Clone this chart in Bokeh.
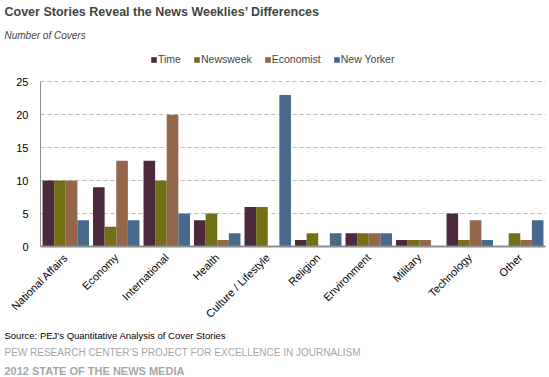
import math
from bokeh.plotting import figure
from bokeh.models import ColumnDataSource, Legend, LegendItem, Title, FactorRange, Range1d
from bokeh.transform import dodge
from bokeh.embed import file_html
from bokeh.resources import INLINE

categories = ["National Affairs", "Economy", "International", "Health", "Culture / Lifestyle",
              "Religion", "Environment", "Military", "Technology", "Other"]
series_names = ["Time", "Newsweek", "Economist", "New Yorker"]
time_vals = [10, 9, 13, 4, 6, 1, 2, 1, 5, 0]
newsweek_vals = [10, 3, 10, 5, 6, 2, 2, 1, 1, 2]
economist_vals = [10, 13, 20, 1, 0, 0, 2, 1, 4, 1]
newyorker_vals = [4, 4, 5, 2, 23, 2, 2, 0, 1, 4]
y_ticks = [0, 5, 10, 15, 20, 25]
colors = ["#4a2a3c", "#727017", "#94674a", "#46698c"]

FONT = "Liberation Sans"
src = ColumnDataSource(dict(cat=categories, t=time_vals, n=newsweek_vals,
                            e=economist_vals, y=newyorker_vals))

p = figure(x_range=FactorRange(*categories, range_padding=0.0), y_range=Range1d(0, 29.75),
           width=549, height=377, output_backend="svg", toolbar_location=None,
           title=None, min_border_left=40, min_border_right=4, min_border_top=3,
           min_border_bottom=0, background_fill_color="white", border_fill_color="white")
p.outline_line_color = None

bw = 0.23
offs = [-1.5 * bw, -0.5 * bw, 0.5 * bw, 1.5 * bw]
cols = ["t", "n", "e", "y"]
items = []
for c, o, col, name in zip(cols, offs, colors, series_names):
    r = p.vbar(x=dodge("cat", o, range=p.x_range), top=c, width=bw, source=src,
               fill_color=col, line_color=None)
    items.append(LegendItem(label=name, renderers=[r]))

p.xgrid.grid_line_color = None
p.ygrid.ticker = y_ticks
p.ygrid.grid_line_color = "#bdbdbd"
p.ygrid.grid_line_dash = "4 3"
p.ygrid.grid_line_width = 1

p.yaxis.ticker = y_ticks
p.yaxis.bounds = (0, 25)
p.yaxis.axis_line_color = "#8c8c8c"
p.yaxis.major_tick_line_color = None
p.yaxis.minor_tick_line_color = None
p.yaxis.major_label_text_font = FONT
p.yaxis.major_label_text_font_size = "11px"
p.yaxis.major_label_text_color = "#000000"
p.yaxis.major_label_standoff = 6

p.xaxis.axis_line_color = "#8c8c8c"
p.xaxis.axis_line_width = 2
p.xaxis.major_tick_line_color = None
p.xaxis.minor_tick_line_color = None
p.xaxis.major_label_orientation = math.pi / 4
p.xaxis.major_label_text_font = FONT
p.xaxis.major_label_text_font_size = "11px"
p.xaxis.major_label_text_color = "#000000"
p.xaxis.major_label_standoff = 3

legend = Legend(items=items, orientation="horizontal", location=(110, 181),
                label_text_font=FONT, label_text_font_size="10.5px",
                glyph_width=7, glyph_height=7, label_standoff=1, spacing=12,
                padding=0, margin=0, border_line_color=None, background_fill_alpha=0)
p.add_layout(legend, "center")

sub = Title(text="Number of Covers", text_font=FONT, text_font_size="10px",
            text_font_style="italic", offset=-36, standoff=19)
p.add_layout(sub, "above")
ttl = Title(text="Cover Stories Reveal the News Weeklies\u2019 Differences", text_font=FONT,
            text_font_size="12.5px", text_font_style="bold", offset=-36, standoff=0,
            padding=dict(left=0, right=0, top=2, bottom=0))
p.add_layout(ttl, "above")

foot1 = Title(text="Source: PEJ\u2019s Quantitative Analysis of Cover Stories", text_font=FONT,
              text_font_size="9.5px", text_font_style="normal", text_color="#000000",
              offset=-36, standoff=0)
p.add_layout(foot1, "below")
foot2 = Title(text="PEW RESEARCH CENTER\u2019S PROJECT FOR EXCELLENCE IN JOURNALISM", text_font=FONT,
              text_font_size="10px", text_font_style="normal", text_color="#a6a6a6",
              offset=-36, standoff=8)
p.add_layout(foot2, "below")
foot3 = Title(text="2012 STATE OF THE NEWS MEDIA", text_font=FONT,
              text_font_size="11px", text_font_style="bold", text_color="#a6a6a6",
              offset=-36, standoff=2)
p.add_layout(foot3, "below")

open("out.html", "w").write(file_html(p, INLINE))
